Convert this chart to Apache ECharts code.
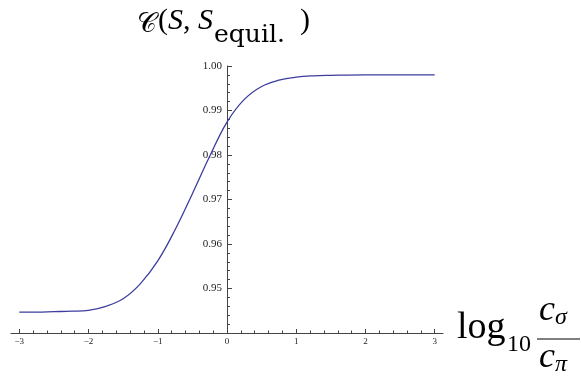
<!DOCTYPE html>
<html>
<head>
<meta charset="utf-8">
<script src="https://cdn.jsdelivr.net/npm/echarts@6/dist/echarts.min.js"></script>
<style>
html,body{margin:0;padding:0;background:#fff;}
#chart{width:581px;height:376px;}
</style>
</head>
<body>
<div id="chart"></div>
<script>
// log10(c_sigma/c_pi) and C(S, S_equil.)
var logRatio = [-3, -2.75, -2.5, -2.25, -2, -1.75, -1.5, -1.25, -1, -0.75, -0.5, -0.25, 0, 0.25, 0.5, 0.75, 1, 1.25, 1.5, 2, 2.5, 3];
var cValue   = [0.9447, 0.9447, 0.9448, 0.9449, 0.9451, 0.9460, 0.9477, 0.9511, 0.9562, 0.9632, 0.9713, 0.9797, 0.9874, 0.9925, 0.9954, 0.9968, 0.9975, 0.9978, 0.9979, 0.9980, 0.9980, 0.9980];
var xMajor   = [-3, -2, -1, 0, 1, 2, 3];

var xMinor = [];
for (var i = 0; i < xMajor.length - 1; i++) {
  for (var k = 1; k < 5; k++) xMinor.push(+(xMajor[i] + k * 0.2).toFixed(2));
}

var points = [];
for (var i = 0; i < logRatio.length; i++) points.push([logRatio[i], cValue[i]]);

var axisCol = '#444';
var serif = '"Liberation Serif", "DejaVu Serif", serif';
var dserif = '"DejaVu Serif", serif';

var myChart = echarts.init(document.getElementById('chart'));
var option = {
  animation: false,
  grid: { left: 11, right: 138, top: 66, bottom: 43, containLabel: false, outerBoundsMode: 'none' },
  xAxis: [
    {
      type: 'value', min: -3.12, max: 3.12, position: 'bottom',
      axisLine: { onZero: false, lineStyle: { color: axisCol, width: 1 } },
      axisTick: { inside: true, length: 4, customValues: xMajor, lineStyle: { color: axisCol } },
      axisLabel: {
        customValues: xMajor, margin: 4, color: '#222', fontSize: 9, fontFamily: serif,
        formatter: function (v) { return String(v).replace('-', '\u2212'); }
      },
      splitLine: { show: false }
    },
    {
      type: 'value', min: -3.12, max: 3.12, position: 'bottom',
      axisLine: { show: false, onZero: false },
      axisTick: { inside: true, length: 2.5, customValues: xMinor, lineStyle: { color: axisCol } },
      axisLabel: { show: false },
      splitLine: { show: false }
    }
  ],
  yAxis: {
    type: 'value', min: 0.94, max: 1.0, interval: 0.01,
    position: 'left', offset: -216,   // sits on x = 0
    axisLine: { show: true, onZero: false, lineStyle: { color: axisCol, width: 1 } },
    axisTick: { show: true, inside: true, length: 5, lineStyle: { color: axisCol } },
    minorTick: { show: true, splitNumber: 5, length: 3, lineStyle: { color: axisCol } },
    axisLabel: {
      margin: 5, color: '#222', fontSize: 11, fontFamily: serif,
      formatter: function (v) { return v < 0.945 ? '' : v.toFixed(2); }
    },
    splitLine: { show: false }
  },
  series: [
    {
      type: 'line',
      data: points,
      smooth: 0.4,
      showSymbol: false,
      lineStyle: { color: '#3d3d9e', width: 1.3 }
    }
  ],
  graphic: [
    // title C(S, S_equil.)
    { type: 'text', left: 137, top: 11, style: { text: '\uD835\uDC9E', fill: '#000', font: '27px ' + dserif } },
    { type: 'text', left: 158, top: 6, style: {
        text: '{p|(}{i|S}{p|, }{i|S}', fill: '#000',
        rich: {
          p: { fontSize: 30, fontFamily: serif },
          i: { fontSize: 30, fontFamily: serif, fontStyle: 'italic' }
        } } },
    { type: 'text', left: 214, top: 23, style: { text: 'equil.', fill: '#000', font: '25px ' + dserif } },
    { type: 'text', left: 300, top: 6, style: { text: ')', fill: '#000', font: '30px ' + serif } },
    // axis name log10 c_sigma / c_pi
    { type: 'text', left: 457, top: 309, style: { text: 'log', fill: '#000', font: '38px ' + serif } },
    { type: 'text', left: 507, top: 333, style: { text: '10', fill: '#000', font: '24px ' + serif } },
    { type: 'text', left: 539, top: 293, style: { text: '{c|c}{s|\u03C3}', fill: '#000',
        rich: { c: { fontSize: 36, fontFamily: serif, fontStyle: 'italic' }, s: { fontSize: 24, fontFamily: serif, fontStyle: 'italic', padding: [14, 0, 0, 0] } } } },
    { type: 'line', shape: { x1: 537, y1: 339, x2: 580, y2: 339 }, style: { stroke: '#000', lineWidth: 1.2 } },
    { type: 'text', left: 539, top: 340, style: { text: '{c|c}{s|\u03C0}', fill: '#000',
        rich: { c: { fontSize: 36, fontFamily: serif, fontStyle: 'italic' }, s: { fontSize: 24, fontFamily: serif, fontStyle: 'italic', padding: [14, 0, 0, 0] } } } }
  ]
};
myChart.setOption(option);
</script>
</body>
</html>
